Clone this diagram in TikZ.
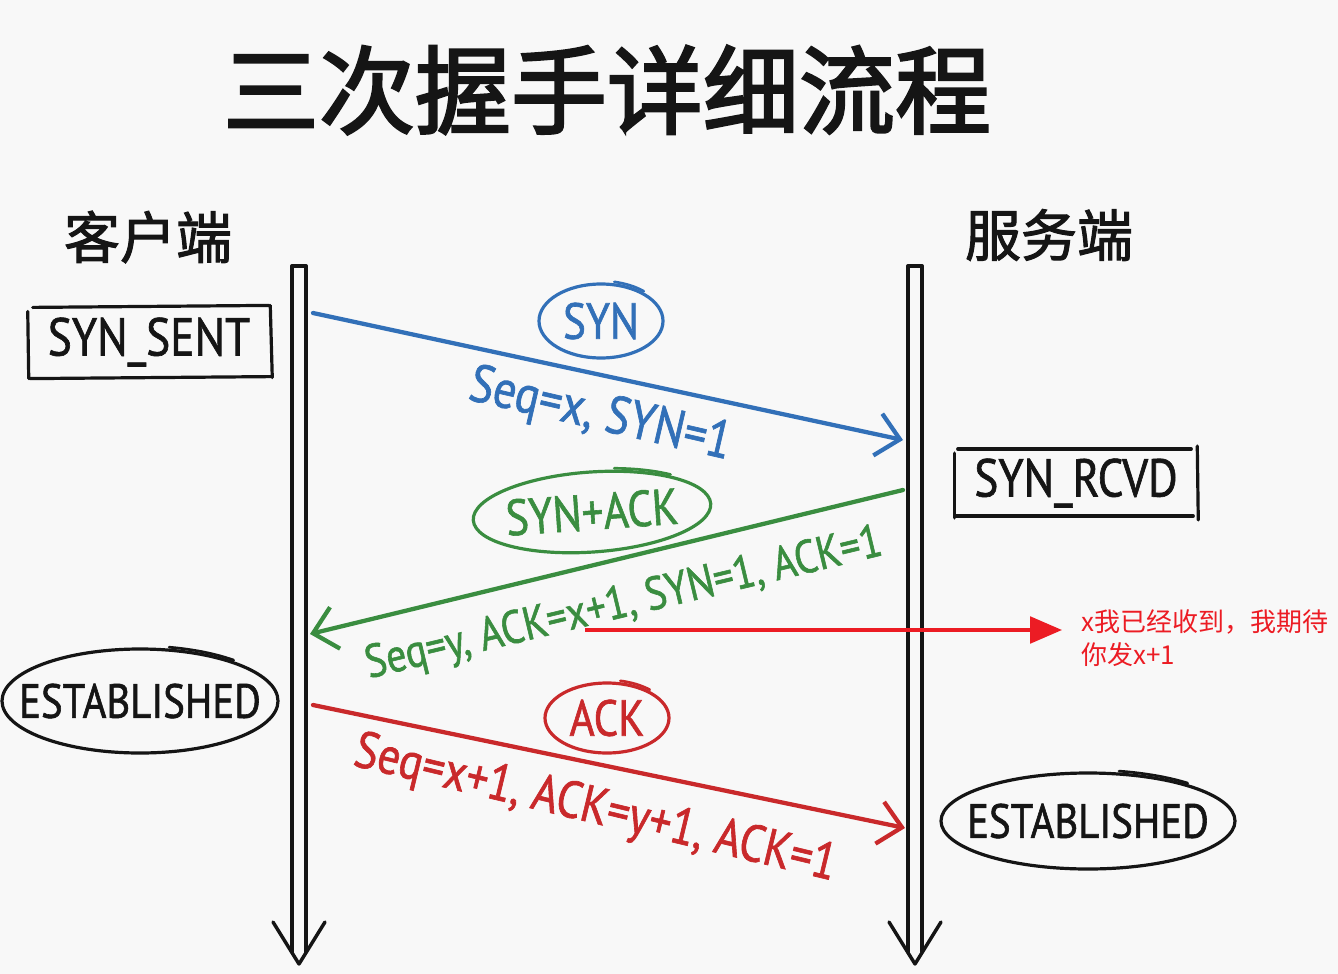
\documentclass[tikz,border=0pt]{standalone}
\usepackage{fontspec}
\setmainfont{PT Sans}
\newfontfamily\hand[FakeStretch=0.85,FakeBold=1.2]{PT Sans}
\newfontfamily\cjk{Noto Sans CJK SC}
\newfontfamily\cjkhead[FakeBold=2.5]{Noto Sans CJK SC}
\newfontfamily\cjkside[FakeBold=1.8]{Noto Sans CJK SC}
\usetikzlibrary{arrows.meta,shapes.geometric,calc}
\definecolor{bgcol}{HTML}{F8F8F8}
\definecolor{ink}{HTML}{151515}
\definecolor{sblue}{HTML}{3270B8}
\definecolor{sgreen}{HTML}{3A8D40}
\definecolor{sred}{HTML}{C9292B}
\definecolor{nred}{HTML}{EC1C24}
\tikzset{
  life/.style={draw=ink, line width=2.6pt, line join=round, line cap=round},
  sk/.style={line width=2.4pt, line cap=round},
  statebox/.style={inner sep=0pt, font=\hand\fontsize{40}{42}\selectfont, text=ink},
  stateell/.style={inner sep=0pt, font=\hand\fontsize{36}{38}\selectfont, text=ink},
  msg/.style={line width=3.2pt, line cap=round, -{Straight Barb[length=17pt, width=32pt, line width=3.2pt]}},
  tag/.style={inner sep=0pt, font=\hand\fontsize{38}{40}\selectfont},
  msglabel/.style={inner sep=0pt, font=\hand\fontsize{40}{42}\selectfont},
  side/.style={font=\cjkside\fontsize{42}{44}\selectfont, text=ink, inner sep=0pt},
  note/.style={font=\cjk\fontsize{19.5}{25}\selectfont, text=nred, align=left, inner sep=0pt, anchor=west},
}
% sketchy ellipse: node, x radius, y radius, colour, rotation
\newcommand\sketchEll[5]{%
  \draw[sk, #4, rotate around={#5:(#1.center)}] (#1.center) ellipse[x radius=#2, y radius=#3];
  \draw[sk, #4, line width=2pt, rotate around={#5:(#1.center)}] ($(#1.center)+(-48:#2+2 and #3+3)$)
     arc[start angle=-48, end angle=-78, x radius=#2+2, y radius=#3+3];
}
\begin{document}
\begin{tikzpicture}[x=0.75pt,y=-0.75pt]
\fill[bgcol] (0,0) rectangle (1338,974);
\useasboundingbox (0,0) rectangle (1338,974);

% title and side labels
\node[font=\cjkhead\fontsize{72}{76}\selectfont, text=ink, inner sep=0pt] (title) at (607,90) {三次握手详细流程};
\node[side] (client) at (148,237) {客户端};
\node[side] (server) at (1049,235) {服务端};

% lifelines
\coordinate (Ltop) at (299,266);
\coordinate (Lbot) at (299,964);
\coordinate (Rtop) at (915,266);
\coordinate (Rbot) at (915,964);
\draw[life] ($(Ltop)+(-7,0)$) -- ($(Lbot)+(-7,-12)$);
\draw[life] ($(Ltop)+(7,0)$) -- ($(Lbot)+(7,-12)$);
\draw[life] ($(Ltop)+(-7,0)$) -- ($(Ltop)+(7,0)$);
\draw[life] ($(Lbot)+(-26,-42)$) -- (Lbot) -- ($(Lbot)+(26,-42)$);
\draw[life] ($(Rtop)+(-7,0)$) -- ($(Rbot)+(-7,-12)$);
\draw[life] ($(Rtop)+(7,0)$) -- ($(Rbot)+(7,-12)$);
\draw[life] ($(Rtop)+(-7,0)$) -- ($(Rtop)+(7,0)$);
\draw[life] ($(Rbot)+(-26,-42)$) -- (Rbot) -- ($(Rbot)+(26,-42)$);

% states
\node[statebox, minimum width=181.5pt, minimum height=53pt] (sent) at (149,342) {SYN\_SENT};
\draw[sk, ink] ($(sent.north west)+(5,1)$) -- ($(sent.north east)+(-1,-1)$);
\draw[sk, ink] ($(sent.north east)+(0,-1)$) -- ($(sent.south east)+(2,0)$);
\draw[sk, ink] ($(sent.south west)+(2,1)$) -- ($(sent.south east)+(1,-1)$);
\draw[sk, ink] ($(sent.north west)+(0,5)$) -- ($(sent.south west)+(1,1)$);

\node[statebox, minimum width=181.5pt, minimum height=52pt] (rcvd) at (1076,483) {SYN\_RCVD};
\draw[sk, ink] ($(rcvd.north west)+(3,1)$) -- ($(rcvd.north east)+(-6,1)$);
\draw[sk, ink] ($(rcvd.north east)+(0,-2)$) -- ($(rcvd.south east)+(1,2)$);
\draw[sk, ink] ($(rcvd.south west)+(0,-2)$) -- ($(rcvd.south east)+(-4,-2)$);
\draw[sk, ink] ($(rcvd.north west)+(0,5)$) -- ($(rcvd.south west)+(0,0)$);

\node[stateell] (estl) at (140,701) {ESTABLISHED};
\sketchEll{estl}{138}{52}{ink}{0}
\node[stateell] (estr) at (1088,821) {ESTABLISHED};
\sketchEll{estr}{147}{48}{ink}{0}

% SYN
\coordinate (b1) at (313,313);
\coordinate (b2) at (903,440);
\draw[msg, sblue] (b1) -- (b2);
\node[tag, text=sblue] (syn) at (601,321) {SYN};
\sketchEll{syn}{62}{37}{sblue}{0}
\node[msglabel, text=sblue, rotate=-13] (synl) at (600,416) {Seq=x, SYN=1};

% SYN+ACK
\coordinate (g1) at (903,490);
\coordinate (g2) at (310,634);
\draw[msg, sgreen] (g1) -- (g2);
\node[tag, text=sgreen, rotate=4] (synack) at (592,512) {SYN+ACK};
\sketchEll{synack}{119}{40}{sgreen}{4}
\node[msglabel, text=sgreen, rotate=13.5, font=\hand\fontsize{35}{37}\selectfont] (synackl) at (624,605) {Seq=y, ACK=x+1, SYN=1, ACK=1};

% ACK
\coordinate (r1) at (313,705);
\coordinate (r2) at (905,828);
\draw[msg, sred] (r1) -- (r2);
\node[tag, text=sred] (ack) at (607,718) {ACK};
\sketchEll{ack}{62}{35}{sred}{0}
\node[msglabel, text=sred, rotate=-13.5, font=\hand\fontsize{39}{41}\selectfont] (ackl) at (595,810) {Seq=x+1, ACK=y+1, ACK=1};

% annotation
\coordinate (n1) at (585,630);
\coordinate (n2) at (1062,630);
\draw[nred, line width=2.6pt, -{Triangle[length=24pt, width=20pt]}] (n1) -- (n2);
\node[note] (notetext) at (1081,638) {x我已经收到，我期待\\你发x+1};
\end{tikzpicture}
\end{document}
